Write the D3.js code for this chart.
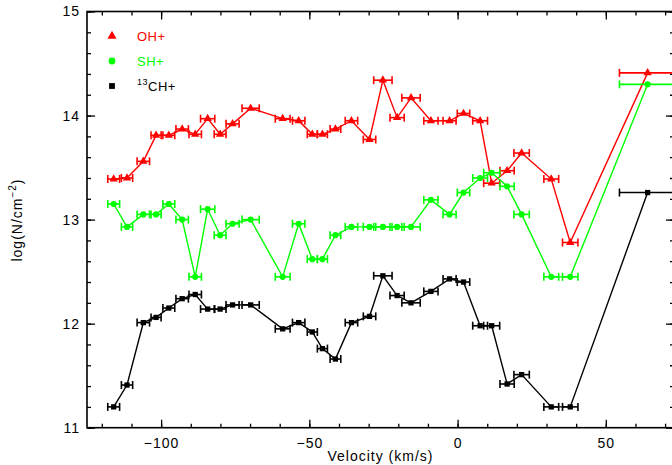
<!DOCTYPE html>
<html lang="en">
<head>
    <meta charset="UTF-8">
    <title>Column densities vs velocity</title>
    <script src="https://d3js.org/d3.v7.min.js"></script>
    <style>
        body {
            margin: 0;
            background-color: #FFFFFF;
        }

        svg {
            display: block;
            font-family: 'Liberation Sans', Arial, Helvetica, sans-serif;
        }

        .axis text {
            font-size: 14px;
            letter-spacing: 1px;
            fill: #000000;
        }

        .axis line {
            stroke: #000000;
            stroke-width: 1.3;
        }

        .axis path {
            display: none;
        }

        .title {
            font-size: 14px;
            letter-spacing: 1px;
        }
    </style>
</head>
<body>
    <div id="chart"></div>

    <script>
        // velocity channels (km/s) and their half widths
        const velocity = [-116, -111.5, -106, -101.7, -97.4, -92.9, -88.5, -84.3, -80.1, -75.9,
            -69.8, -59, -53.6, -49, -45.6, -41.2, -35.8, -29.7, -25.2, -20.4,
            -15.7, -9.0, -2.7, 2.0, 7.6, 11.5, 16.7, 21.6, 31.6, 38.0, 64.1];
        const velErr = [2.0, 1.9, 2.1, 1.7, 2.0, 2.1, 2.1, 2.4, 2.0, 2.2,
            2.9, 2.5, 2.1, 1.7, 1.7, 1.8, 2.1, 2.1, 3.1, 2.4,
            3.1, 2.4, 2.2, 2.1, 2.5, 2.7, 2.4, 2.6, 2.5, 2.6, 9.5];

        // log column densities
        const ohPlus = [13.39, 13.40, 13.56, 13.81, 13.81, 13.87, 13.82, 13.97, 13.82, 13.92,
            14.07, 13.97, 13.95, 13.82, 13.82, 13.87, 13.95, 13.77, 14.34, 13.98,
            14.17, 13.95, 13.95, 14.02, 13.95, 13.35, 13.47, 13.64, 13.39, 12.78, 14.41];
        const shPlus = [13.15, 12.93, 13.05, 13.05, 13.15, 13.00, 12.45, 13.10, 12.85, 12.96,
            13.00, 12.45, 12.96, 12.62, 12.62, 12.85, 12.93, 12.93, 12.93, 12.93,
            12.93, 13.19, 13.05, 13.26, 13.40, 13.45, 13.32, 13.05, 12.45, 12.45, 14.30];
        const ch13Plus = [11.20, 11.41, 12.01, 12.06, 12.15, 12.24, 12.28, 12.14, 12.14, 12.18,
            12.18, 11.95, 12.01, 11.92, 11.76, 11.66, 12.01, 12.07, 12.46, 12.27,
            12.20, 12.31, 12.43, 12.40, 11.98, 11.98, 11.42, 11.51, 11.20, 11.20, 13.26];

        const xMajorTicks = [-100, -50, 0, 50];
        const yMajorTicks = [11, 12, 13, 14, 15];

        const width = 672;
        const height = 465;
        const plotLeft = 87, plotRight = 674, plotTop = 11.5, plotBottom = 427.7;

        const x = d3.scaleLinear().domain([-125, 73]).range([plotLeft, plotRight]);
        const y = d3.scaleLinear().domain([11, 15]).range([plotBottom, plotTop]);

        const svg = d3.select("#chart").append("svg")
            .attr("width", width)
            .attr("height", height);

        // minor ticks
        const xMinor = d3.range(-120, 80, 10);
        const yMinor = d3.range(11, 15.01, 0.2);

        svg.append("g").attr("class", "axis")
            .attr("transform", `translate(0,${plotBottom})`)
            .call(d3.axisBottom(x).tickValues(xMinor).tickSize(-4).tickFormat(""));
        svg.append("g").attr("class", "axis")
            .attr("transform", `translate(0,${plotTop})`)
            .call(d3.axisTop(x).tickValues(xMinor).tickSize(-4).tickFormat(""));
        svg.append("g").attr("class", "axis")
            .attr("transform", `translate(${plotLeft},0)`)
            .call(d3.axisLeft(y).tickValues(yMinor).tickSize(-4).tickFormat(""));
        svg.append("g").attr("class", "axis")
            .attr("transform", `translate(${plotRight},0)`)
            .call(d3.axisRight(y).tickValues(yMinor).tickSize(-4).tickFormat(""));

        // major ticks with labels
        svg.append("g").attr("class", "axis")
            .attr("transform", `translate(0,${plotBottom})`)
            .call(d3.axisBottom(x).tickValues(xMajorTicks)
                .tickSize(-8).tickPadding(10).tickFormat(d3.format("d")));
        svg.append("g").attr("class", "axis")
            .attr("transform", `translate(0,${plotTop})`)
            .call(d3.axisTop(x).tickValues(xMajorTicks).tickSize(-8).tickFormat(""));
        svg.append("g").attr("class", "axis")
            .attr("transform", `translate(${plotLeft},0)`)
            .call(d3.axisLeft(y).tickValues(yMajorTicks).tickSize(-8).tickPadding(7)
                .tickFormat(d3.format("d")));
        svg.append("g").attr("class", "axis")
            .attr("transform", `translate(${plotRight},0)`)
            .call(d3.axisRight(y).tickValues(yMajorTicks).tickSize(-8).tickFormat(""));

        // frame
        svg.append("rect")
            .attr("x", plotLeft).attr("y", plotTop)
            .attr("width", plotRight - plotLeft).attr("height", plotBottom - plotTop)
            .attr("fill", "none")
            .attr("stroke", "#000000")
            .attr("stroke-width", 1.6);

        const series = [
            { values: ohPlus, color: "#FF0000", symbol: d3.symbolTriangle, size: 30, label: "OH+" },
            { values: shPlus, color: "#00FF00", symbol: d3.symbolCircle, size: 30, label: "SH+" },
            { values: ch13Plus, color: "#000000", symbol: d3.symbolSquare, size: 28, label: "CH+" }
        ];

        const line = d3.line()
            .x(d => x(d.v))
            .y(d => y(d.n));

        series.forEach(s => {
            const pts = velocity.map((v, i) => ({ v: v, e: velErr[i], n: s.values[i] }));
            const g = svg.append("g");

            g.append("path")
                .datum(pts)
                .attr("d", line)
                .attr("fill", "none")
                .attr("stroke", s.color)
                .attr("stroke-width", 1.4);

            const bars = g.selectAll(".err")
                .data(pts)
                .enter()
                .append("g")
                .attr("stroke", s.color)
                .attr("stroke-width", 1.6);

            bars.append("line")
                .attr("x1", d => x(d.v - d.e)).attr("x2", d => x(d.v + d.e))
                .attr("y1", d => y(d.n)).attr("y2", d => y(d.n));
            bars.append("line")
                .attr("x1", d => x(d.v - d.e)).attr("x2", d => x(d.v - d.e))
                .attr("y1", d => y(d.n) - 4).attr("y2", d => y(d.n) + 4);
            bars.append("line")
                .attr("x1", d => x(d.v + d.e)).attr("x2", d => x(d.v + d.e))
                .attr("y1", d => y(d.n) - 4).attr("y2", d => y(d.n) + 4);

            g.selectAll(".mark")
                .data(pts)
                .enter()
                .append("path")
                .attr("d", d3.symbol().type(s.symbol).size(s.size))
                .attr("transform", d => `translate(${x(d.v)},${y(d.n)})`)
                .attr("fill", s.color);
        });

        // legend
        const legendY = [36, 61, 86];
        series.forEach((s, i) => {
            svg.append("path")
                .attr("d", d3.symbol().type(s.symbol).size(s.size + 6))
                .attr("transform", `translate(112,${legendY[i]})`)
                .attr("fill", s.color);
            const t = svg.append("text")
                .attr("x", 137)
                .attr("y", legendY[i] + 5)
                .attr("font-size", 13)
                .attr("letter-spacing", 0.5)
                .attr("fill", s.color);
            if (i === 2) {
                t.append("tspan").attr("font-size", 9).attr("dy", -6).text("13");
                t.append("tspan").attr("dy", 6).text(s.label);
            } else {
                t.text(s.label);
            }
        });

        // axis titles
        svg.append("text")
            .attr("class", "title")
            .attr("x", (plotLeft + plotRight) / 2)
            .attr("y", 461)
            .attr("text-anchor", "middle")
            .text("Velocity (km/s)");

        const yt = svg.append("text")
            .attr("class", "title")
            .attr("transform", "translate(22,220) rotate(-90)")
            .attr("text-anchor", "middle");
        yt.append("tspan").text("log(N/cm");
        yt.append("tspan").attr("font-size", 10).attr("dy", -6).text("\u22122");
        yt.append("tspan").attr("dy", 6).text(")");
    </script>
</body>
</html>
